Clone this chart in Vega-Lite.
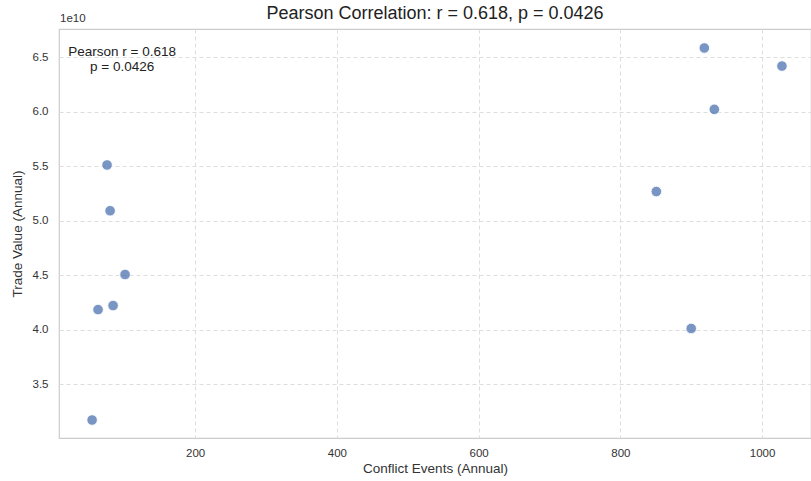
{
  "$schema": "https://vega.github.io/schema/vega-lite/v6.json",
  "width": 752,
  "height": 409,
  "autosize": {"type": "none"},
  "padding": {"left": 59, "top": 29, "right": 0, "bottom": 43},
  "background": "white",
  "config": {
    "font": "Liberation Sans",
    "view": {"stroke": "#cccccc", "strokeWidth": 1.2},
    "axis": {
      "domain": false,
      "ticks": false,
      "grid": true,
      "gridColor": "#dddddd",
      "gridDash": [4, 3],
      "gridWidth": 1,
      "labelFont": "Liberation Sans",
      "labelFontSize": 11.5,
      "labelColor": "#333333",
      "titleFont": "Liberation Sans",
      "titleFontSize": 13.5,
      "titleFontWeight": "normal",
      "titleColor": "#333333"
    }
  },
  "title": {
    "text": "Pearson Correlation: r = 0.618, p = 0.0426",
    "font": "Liberation Sans",
    "fontSize": 18,
    "fontWeight": "normal",
    "color": "#222222",
    "anchor": "middle",
    "offset": -10
  },
  "layer": [
    {
      "data": {
        "values": [
          {"conflict": 54.7, "trade": 3.17e10},
          {"conflict": 63.1, "trade": 4.183e10},
          {"conflict": 75.8, "trade": 5.51e10},
          {"conflict": 80.1, "trade": 5.09e10},
          {"conflict": 84.3, "trade": 4.22e10},
          {"conflict": 101.2, "trade": 4.505e10},
          {"conflict": 850.8, "trade": 5.266e10},
          {"conflict": 900.0, "trade": 4.01e10},
          {"conflict": 918.5, "trade": 6.583e10},
          {"conflict": 932.6, "trade": 6.02e10},
          {"conflict": 1028.0, "trade": 6.417e10}
        ]
      },
      "mark": {"type": "point", "filled": true, "size": 110, "color": "#4c72b0", "opacity": 0.75, "stroke": "white", "strokeWidth": 0.8, "strokeOpacity": 1},
      "encoding": {
        "x": {
          "field": "conflict",
          "type": "quantitative",
          "title": "Conflict Events (Annual)",
          "scale": {"domain": [8, 1069], "nice": false, "zero": false},
          "axis": {"values": [200, 400, 600, 800, 1000], "format": "d", "labelPadding": 9, "titlePadding": 3}
        },
        "y": {
          "field": "trade",
          "type": "quantitative",
          "title": "Trade Value (Annual)",
          "scale": {"domain": [3.005e10, 6.757e10], "nice": false, "zero": false},
          "axis": {
            "values": [3.5e10, 4.0e10, 4.5e10, 5.0e10, 5.5e10, 6.0e10, 6.5e10],
            "labelExpr": "format(datum.value / 1e10, '.1f')",
            "labelPadding": 11,
            "titlePadding": 8
          }
        }
      }
    },
    {
      "data": {"values": [{"label": "Pearson"}]},
      "mark": {"type": "text", "align": "center", "baseline": "middle", "fontSize": 13.5, "color": "#222222", "lineHeight": 15},
      "encoding": {
        "x": {"datum": 97, "type": "quantitative"},
        "y": {"datum": 6.545e10, "type": "quantitative"},
        "text": {"value": ["Pearson r = 0.618", "p = 0.0426"]}
      }
    },
    {
      "data": {"values": [{"label": "exp"}]},
      "mark": {"type": "text", "align": "left", "baseline": "middle", "fontSize": 11.5, "color": "#333333", "dy": -10, "dx": 1, "clip": false},
      "encoding": {
        "x": {"datum": 8, "type": "quantitative"},
        "y": {"datum": 6.757e10, "type": "quantitative"},
        "text": {"value": "1e10"}
      }
    }
  ]
}
